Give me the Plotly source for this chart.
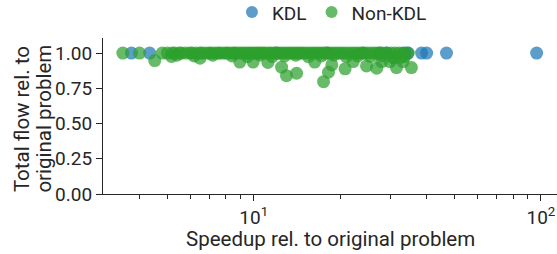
import plotly.graph_objects as go

# KDL series
kdl_x = [3.75, 4.34, 12.0, 18.0, 24.0, 27.5, 29.0, 33.6, 34.4, 38.4, 40.0, 46.9, 96.6]
kdl_y = [1.0, 1.0, 1.0, 1.0, 1.0, 1.0, 1.0, 1.0, 1.0, 1.0, 1.0, 1.0, 1.0]

# Non-KDL series
nonkdl_x = [3.5, 4.0, 4.8, 5.0, 5.2, 5.3, 5.5, 5.6, 5.8, 6.0, 6.1, 6.3, 6.5, 6.6, 6.8,
            7.0, 7.1, 7.3, 7.5, 7.6, 7.8, 8.0, 8.1, 8.3, 8.5, 8.6, 8.8, 9.0, 9.2, 9.4,
            9.6, 9.8, 10.0, 10.2, 10.4, 10.6, 10.8, 11.0, 11.3, 11.5, 11.8, 12.0, 12.3,
            12.6, 12.9, 13.2, 13.5, 13.8, 14.1, 14.4, 14.7, 15.0, 15.4, 15.8, 16.2, 16.6,
            17.0, 17.4, 17.8, 18.2, 18.7, 19.2, 19.7, 20.2, 20.7, 21.3, 21.9, 22.5, 23.1,
            23.7, 24.3, 25.0, 25.8, 26.5, 27.2, 28.0, 29.0, 30.0, 31.0, 32.0, 33.0, 34.5,
            5.4, 6.2, 7.2, 8.4, 9.5, 10.5, 11.6, 12.8, 14.0, 15.5, 17.2, 19.0, 21.0, 23.0,
            25.5, 27.8, 30.5, 33.5,
            4.52, 5.17, 6.5, 8.94, 9.95, 11.2, 12.5, 13.0, 14.1, 16.3, 17.5, 18.2, 18.7,
            20.8, 22.2, 24.7, 26.8, 27.9, 29.8, 31.4, 33.1, 35.4, 30.8, 32.5]
nonkdl_y = [1.0, 1.0, 1.0, 1.0, 1.0, 1.0, 1.0, 1.0, 1.0, 1.0, 1.0, 1.0, 1.0, 1.0, 1.0,
            1.0, 1.0, 1.0, 1.0, 1.0, 1.0, 1.0, 1.0, 1.0, 1.0, 1.0, 1.0, 1.0, 1.0, 1.0,
            1.0, 1.0, 1.0, 1.0, 1.0, 1.0, 1.0, 1.0, 1.0, 1.0, 1.0, 1.0, 1.0,
            1.0, 1.0, 1.0, 1.0, 1.0, 1.0, 1.0, 1.0, 1.0, 1.0, 1.0, 1.0, 1.0,
            1.0, 1.0, 1.0, 1.0, 1.0, 1.0, 1.0, 1.0, 1.0, 1.0, 1.0, 1.0, 1.0,
            1.0, 1.0, 1.0, 1.0, 1.0, 1.0, 1.0, 1.0, 1.0, 1.0, 1.0, 1.0, 1.0,
            0.985, 0.98, 0.985, 0.98, 0.975, 0.985, 0.975, 0.98, 0.985, 0.975, 0.98, 0.985, 0.975, 0.98,
            0.975, 0.98, 0.97, 0.975,
            0.947, 0.976, 0.964, 0.936, 0.936, 0.933, 0.9, 0.84, 0.857, 0.936, 0.797, 0.864, 0.916,
            0.888, 0.94, 0.909, 0.893, 0.94, 0.94, 0.897, 0.94, 0.897, 0.965, 0.97]

x_tickvals = [10, 100]
x_ticktext = ["10<sup>1</sup>", "10<sup>2</sup>"]
x_minor = [4, 5, 6, 7, 8, 9, 20, 30, 40, 50, 60, 70, 80, 90]
y_tickvals = [0.0, 0.25, 0.5, 0.75, 1.0]
x_title = "Speedup rel. to original problem"
y_title_lines = ["Total flow rel. to", "original problem"]

BLUE = "#1f77b4"
GREEN = "#2ca02c"
TXT = "#262626"
FS = 19
FT = 20.5

fig = go.Figure()
fig.add_trace(go.Scatter(x=kdl_x, y=kdl_y, mode="markers", name="KDL",
                         marker=dict(color=BLUE, size=13, opacity=0.72, line=dict(width=0))))
fig.add_trace(go.Scatter(x=nonkdl_x, y=nonkdl_y, mode="markers", name="Non-KDL",
                         marker=dict(color=GREEN, size=13, opacity=0.72, line=dict(width=0))))

fig.update_layout(
    width=557, height=254,
    margin=dict(l=103, r=0, t=38, b=60, autoexpand=False),
    paper_bgcolor="white", plot_bgcolor="white",
    font=dict(family="Roboto", size=FS, color=TXT),
    showlegend=True,
    legend=dict(orientation="h", x=0.284, xanchor="left", y=1.165, yanchor="middle",
                font=dict(size=FS, color=TXT), bgcolor="rgba(0,0,0,0)",
                itemsizing="constant"),
    annotations=[
        dict(text=x_title, xref="paper", yref="paper", x=0.5, y=-0.29,
             xanchor="center", yanchor="middle", showarrow=False,
             font=dict(size=FT, color=TXT)),
        dict(text=y_title_lines[0], xref="paper", yref="paper", x=(22 - 103) / 454, y=0.48,
             xanchor="center", yanchor="middle", showarrow=False, textangle=-90,
             font=dict(size=FT, color=TXT)),
        dict(text=y_title_lines[1], xref="paper", yref="paper", x=(44.5 - 103) / 454, y=0.48,
             xanchor="center", yanchor="middle", showarrow=False, textangle=-90,
             font=dict(size=FT, color=TXT)),
    ],
)
fig.update_xaxes(
    type="log", range=[0.475, 2.056], automargin=False,
    tickmode="array", tickvals=x_tickvals, ticktext=x_ticktext,
    ticks="outside", ticklen=6, tickwidth=1, tickcolor=TXT,
    minor=dict(tickmode="array", tickvals=x_minor, ticks="outside", ticklen=3.5,
               tickwidth=0.8, tickcolor=TXT, showgrid=False),
    showline=True, linecolor=TXT, linewidth=1.2, showgrid=False, zeroline=False,
    tickfont=dict(size=FS, color=TXT),
)
fig.update_yaxes(
    range=[0, 1.107], automargin=False,
    tickmode="array", tickvals=y_tickvals, tickformat=".2f",
    ticks="outside", ticklen=6, tickwidth=1, tickcolor=TXT,
    showline=True, linecolor=TXT, linewidth=1.2, showgrid=False, zeroline=False,
    tickfont=dict(size=FS, color=TXT),
)

fig.write_html("out.html", config={"displayModeBar": False},
               post_script="document.body.style.margin='0';document.body.style.padding='0';")
